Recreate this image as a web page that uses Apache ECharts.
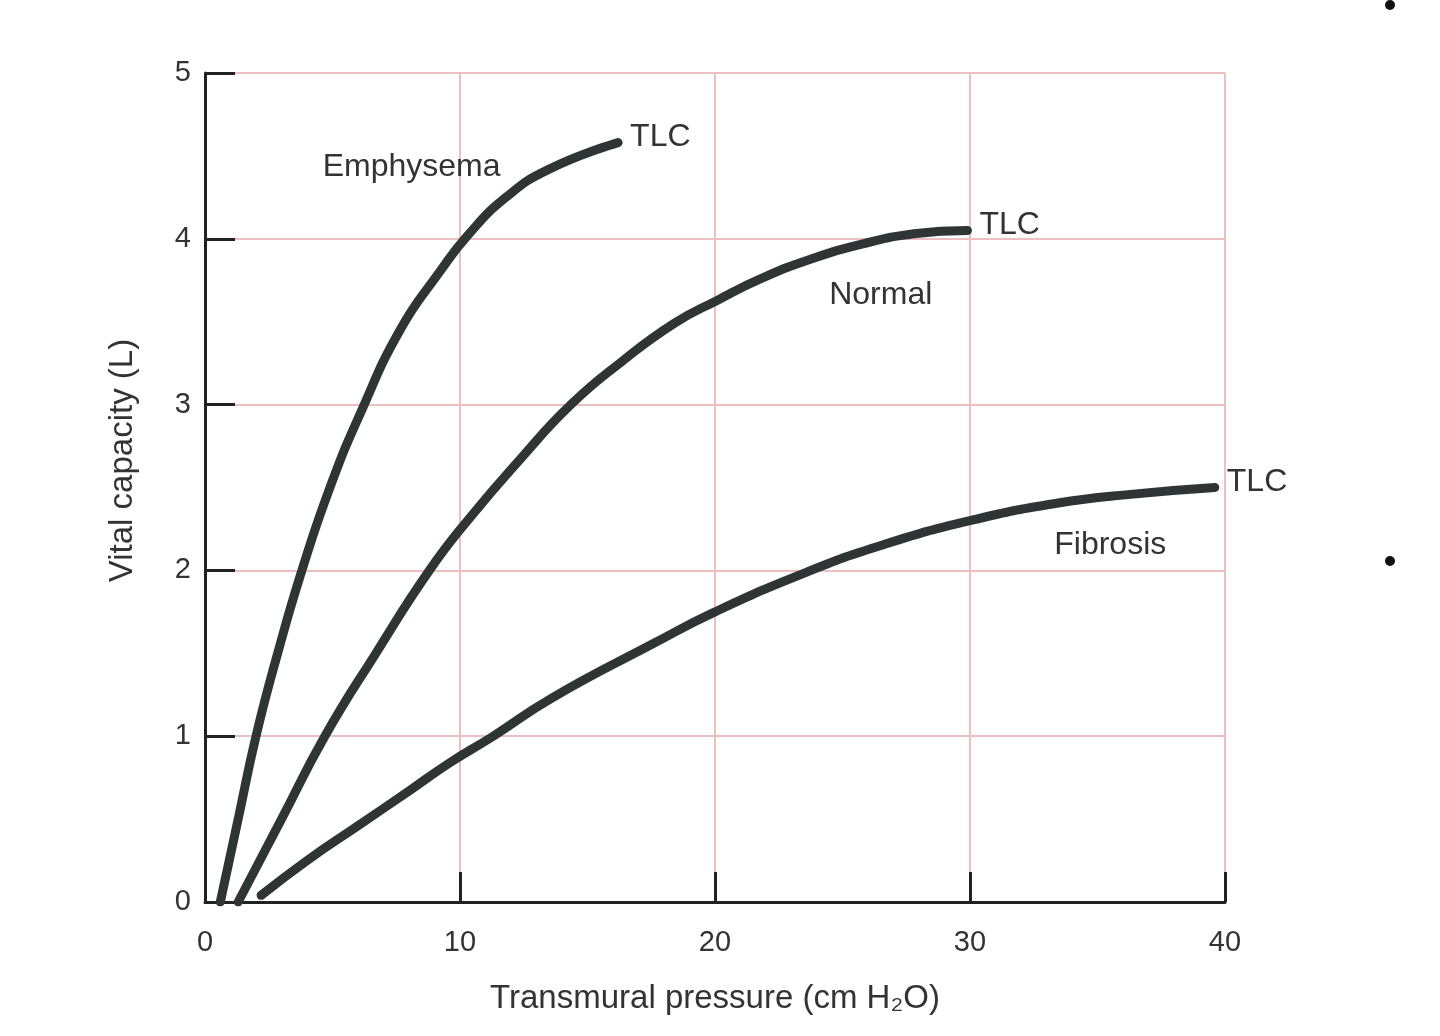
<!DOCTYPE html>
<html>
<head>
<meta charset="utf-8">
<script src="https://cdn.jsdelivr.net/npm/echarts@6/dist/echarts.min.js"></script>
<style>
  html, body { margin: 0; padding: 0; background: #fff; }
  #chart { width: 1440px; height: 1036px; }
</style>
</head>
<body>
<div id="chart"></div>
<script>
// curves: [pressure cm H2O, volume L]
var emphysema = [[0.6, 0], [1.3, 0.5], [2.0, 1.0], [2.85, 1.5], [3.8, 2.0], [4.9, 2.5], [6.1, 2.95], [7.65, 3.45], [9.2, 3.8], [10.3, 4.02], [11.8, 4.25], [13.5, 4.42], [16.2, 4.58]];
var normal = [[1.3, 0], [3.0, 0.5], [4.7, 1.0], [6.7, 1.5], [8.8, 2.0], [10.4, 2.32], [12.3, 2.66], [14.35, 3.0], [16.35, 3.26], [18.4, 3.49], [20.1, 3.63], [21.8, 3.76], [23.8, 3.88], [25.8, 3.97], [27.8, 4.03], [29.9, 4.05]];
var fibrosis = [[2.2, 0.04], [4, 0.25], [6, 0.46], [8, 0.67], [9.6, 0.84], [11.3, 1.0], [13.6, 1.23], [17.6, 1.56], [20, 1.75], [23.6, 1.99], [26.6, 2.155], [30, 2.3], [33.4, 2.405], [36.4, 2.46], [39.6, 2.5]];
var curveNames = ['Emphysema', 'Normal', 'Fibrosis'];
var endText = 'TLC';

var font = '"Liberation Sans", Arial, sans-serif';
var ink = '#2f3535';
var textCol = '#333';

function curve(name, data, labelAt) {
    return {
        name: name,
        type: 'line',
        data: data,
        smooth: 0.5,
        symbol: 'none',
        lineStyle: { color: ink, width: 9, cap: 'round', join: 'round' },
        endLabel: {
            show: true,
            formatter: endText,
            color: textCol,
            fontFamily: font,
            fontSize: 32,
            distance: 12,
            offset: [0, -5]
        },
        markPoint: {
            symbol: 'circle',
            symbolSize: 1,
            itemStyle: { color: 'rgba(0,0,0,0)' },
            label: { show: true, position: 'inside', formatter: name, color: textCol, fontFamily: font, fontSize: 32 },
            data: [{ coord: labelAt, value: name }]
        }
    };
}

var chart = echarts.init(document.getElementById('chart'));

chart.setOption({
    backgroundColor: '#fff',
    animation: false,
    grid: { left: 205, right: 215, top: 73, bottom: 134 },
    xAxis: {
        type: 'value',
        min: 0, max: 40, interval: 10,
        name: 'Transmural pressure (cm H\u2082O)',
        nameLocation: 'middle',
        nameGap: 80,
        nameTextStyle: { color: textCol, fontFamily: font, fontSize: 33 },
        axisLine: { lineStyle: { color: '#222', width: 3 } },
        axisTick: { inside: true, length: 30, lineStyle: { color: '#222', width: 3 } },
        axisLabel: { color: textCol, fontFamily: font, fontSize: 29, margin: 26 },
        splitLine: { show: true, lineStyle: { color: '#ecc0c0', width: 2 } }
    },
    yAxis: {
        type: 'value',
        min: 0, max: 5, interval: 1,
        name: 'Vital capacity (L)',
        nameLocation: 'middle',
        nameRotate: 90,
        nameGap: 66,
        nameTextStyle: { color: textCol, fontFamily: font, fontSize: 33, padding: [0, 0, 0, 54] },
        axisLine: { show: true, lineStyle: { color: '#222', width: 3 } },
        axisTick: { show: true, inside: true, length: 30, lineStyle: { color: '#222', width: 3 } },
        axisLabel: { color: textCol, fontFamily: font, fontSize: 29, margin: 14 },
        splitLine: { show: true, lineStyle: { color: '#ecc0c0', width: 2 } }
    },
    series: [
        curve(curveNames[0], emphysema, [8.1, 4.43]),
        curve(curveNames[1], normal, [26.5, 3.66]),
        curve(curveNames[2], fibrosis, [35.5, 2.15])
    ],
    graphic: [
        { type: 'circle', shape: { cx: 1390, cy: 5, r: 5 }, style: { fill: '#111' } },
        { type: 'circle', shape: { cx: 1390, cy: 561, r: 5 }, style: { fill: '#111' } }
    ]
});
</script>
</body>
</html>
